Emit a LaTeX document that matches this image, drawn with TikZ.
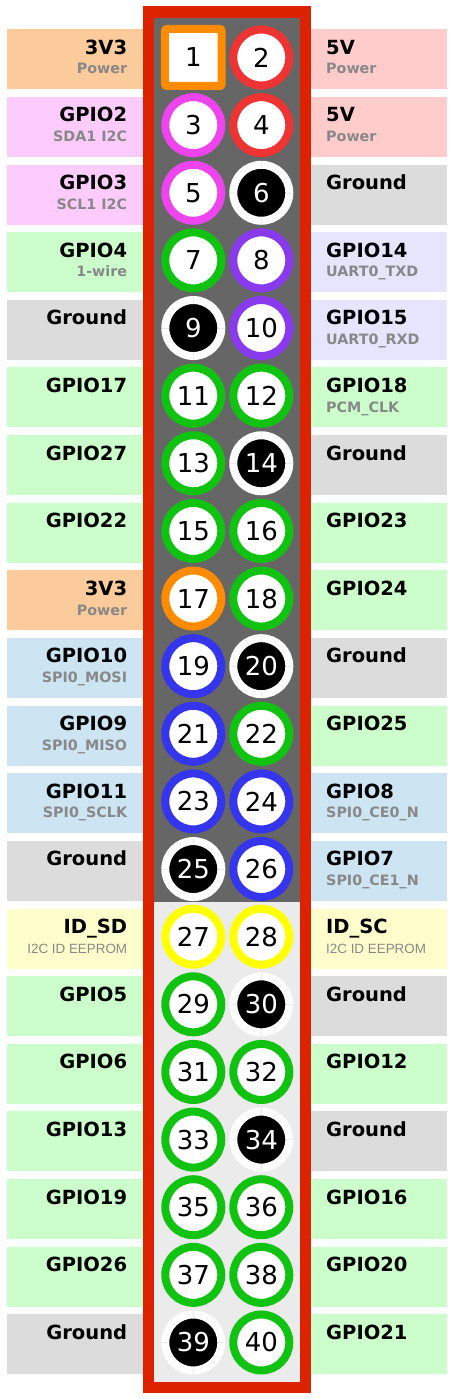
\documentclass[tikz,border=0pt]{standalone}
\usepackage{fontspec}
\setmainfont{DejaVu Sans}
\newfontfamily\arialfont{Liberation Sans}
\definecolor{bpwrA}{HTML}{FCCB9B}
\definecolor{bpwrB}{HTML}{FFCCCC}
\definecolor{bitwoc}{HTML}{FDCCFD}
\definecolor{bgnd}{HTML}{DCDCDC}
\definecolor{bgpio}{HTML}{CCFECC}
\definecolor{buart}{HTML}{E5E5FD}
\definecolor{bspi}{HTML}{CDE4F3}
\definecolor{bid}{HTML}{FEFECC}
\definecolor{cora}{HTML}{FF8C00}
\definecolor{cred}{HTML}{EE3333}
\definecolor{cmag}{HTML}{EE44EE}
\definecolor{cgrn}{HTML}{11C311}
\definecolor{cpur}{HTML}{8A3AEE}
\definecolor{cblu}{HTML}{3535EE}
\definecolor{cyel}{HTML}{FFFF00}
\definecolor{frame}{HTML}{DD2200}
\definecolor{darkbed}{HTML}{666666}
\definecolor{lightbed}{HTML}{EBEBEB}
\definecolor{subgray}{HTML}{888888}
\definecolor{tickgray}{HTML}{EBEBEB}
\newcommand\idsubfont{\arialfont\fontsize{13.4}{14}\selectfont\mdseries}
\tikzset{
  pinbase/.style={circle,inner sep=0pt,minimum size=56pt,line width=8pt,fill=white,
    font=\fontsize{26}{26}\selectfont,text=black},
  ringora/.style={pinbase,draw=cora},
  ringred/.style={pinbase,draw=cred},
  ringmag/.style={pinbase,draw=cmag},
  ringgrn/.style={pinbase,draw=cgrn},
  ringpur/.style={pinbase,draw=cpur},
  ringblu/.style={pinbase,draw=cblu},
  ringyel/.style={pinbase,draw=cyel},
  ringgnd/.style={pinbase,draw=white,fill=black,text=white},
  sqpin/.style={rectangle,rounded corners=2pt,inner sep=0pt,minimum width=56.7pt,minimum height=57pt,
    line width=8pt,draw=cora,fill=white,font=\fontsize{26}{26}\selectfont},
  mainlab/.style={inner sep=0pt,font=\fontsize{19.5}{20}\selectfont\bfseries,text=black},
  sublab/.style={inner sep=0pt,font=\fontsize{14.3}{15}\selectfont\bfseries,text=subgray},
  tickline/.style={draw=tickgray,line width=0.3pt},
}
\begin{document}
\begin{tikzpicture}[x=1pt,y=-1pt]
\useasboundingbox (0,0) rectangle (454,1399);
\fill[white] (0,0) rectangle (454,1399);
% label boxes
\foreach \lc/\rc [count=\i from 0] in {bpwrA/bpwrB,bitwoc/bpwrB,bitwoc/bgnd,bgpio/buart,bgnd/buart,
  bgpio/bgpio,bgpio/bgnd,bgpio/bgpio,bpwrA/bgpio,bspi/bgnd,bspi/bgpio,bspi/bspi,bgnd/bspi,bid/bid,
  bgpio/bgnd,bgpio/bgpio,bgpio/bgnd,bgpio/bgpio,bgpio/bgpio,bgnd/bgpio}{
  \pgfmathsetmacro\ty{29.3+\i*67.63}
  \fill[\lc] (7,\ty) rectangle (150,\ty+60);
  \fill[\rc] (305,\ty) rectangle (446.7,\ty+60);
}
% header frame
\fill[frame] (143,6) rectangle (311.3,1392.7);
\fill[darkbed] (153.7,18.3) rectangle (300,901.7);
\fill[lightbed] (153.7,901.7) rectangle (300,1381.7);
% pins and labels
\foreach \ll/\ls/\pa/\ca/\pb/\cb/\rl/\rs [count=\i from 0] in {
  3V3/Power/1/sqpin/2/ringred/5V/Power,
  GPIO2/SDA1 I2C/3/ringmag/4/ringred/5V/Power,
  GPIO3/SCL1 I2C/5/ringmag/6/ringgnd/Ground/,
  GPIO4/1-wire/7/ringgrn/8/ringpur/GPIO14/UART0\_TXD,
  Ground//9/ringgnd/10/ringpur/GPIO15/UART0\_RXD,
  GPIO17//11/ringgrn/12/ringgrn/GPIO18/PCM\_CLK,
  GPIO27//13/ringgrn/14/ringgnd/Ground/,
  GPIO22//15/ringgrn/16/ringgrn/GPIO23/,
  3V3/Power/17/ringora/18/ringgrn/GPIO24/,
  GPIO10/SPI0\_MOSI/19/ringblu/20/ringgnd/Ground/,
  GPIO9/SPI0\_MISO/21/ringblu/22/ringgrn/GPIO25/,
  GPIO11/SPI0\_SCLK/23/ringblu/24/ringblu/GPIO8/SPI0\_CE0\_N,
  Ground//25/ringgnd/26/ringblu/GPIO7/SPI0\_CE1\_N,
  ID\_SD/{\idsubfont I2C ID EEPROM}/27/ringyel/28/ringyel/ID\_SC/{\idsubfont I2C ID EEPROM},
  GPIO5//29/ringgrn/30/ringgnd/Ground/,
  GPIO6//31/ringgrn/32/ringgrn/GPIO12/,
  GPIO13//33/ringgrn/34/ringgnd/Ground/,
  GPIO19//35/ringgrn/36/ringgrn/GPIO16/,
  GPIO26//37/ringgrn/38/ringgrn/GPIO20/,
  Ground//39/ringgnd/40/ringgrn/GPIO21/}{
  \pgfmathsetmacro\cy{57.5+\i*67.63}
  \node[\ca] (p\pa) at (193.3,\cy) {\pa};
  \node[\cb] (p\pb) at (261.3,\cy) {\pb};
  \node[mainlab,anchor=base east] (lm\i) at (127.3,\cy-3.2) {\ll};
  \node[sublab,anchor=base east] (ls\i) at (127.3,\cy+16.5) {\ls};
  \node[mainlab,anchor=base west] (rm\i) at (326,\cy-3.2) {\rl};
  \node[sublab,anchor=base west] (rs\i) at (326,\cy+16.5) {\rs};
}
% faint ticks on the white rings of ground pins
\foreach \g in {6,9,14,20,25,30,34,39}{
  \foreach \a in {0,15,...,345}{
    \draw[tickline] (p\g.center) ++(\a:24.5) -- ++(\a:7);
  }
}
\end{tikzpicture}
\end{document}
